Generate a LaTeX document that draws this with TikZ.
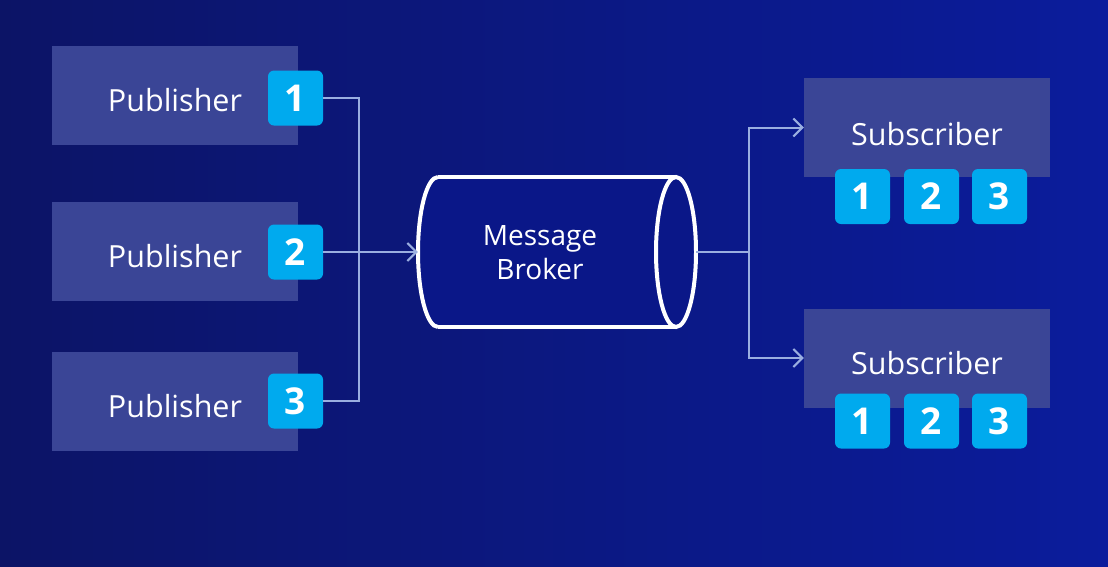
\documentclass[tikz,border=0pt]{standalone}
\usepackage{fontspec}
\setmainfont{Open Sans}
\usetikzlibrary{arrows.meta}
\definecolor{bgL}{HTML}{0C1466}
\definecolor{bgR}{HTML}{0B1C9C}
\definecolor{boxfill}{HTML}{3A4596}
\definecolor{badge}{HTML}{00AAEE}
\definecolor{conn}{HTML}{9AAEE0}
\definecolor{brokerfill}{HTML}{0A1788}
\tikzset{
  pubbox/.style={fill=boxfill, minimum width=246pt, minimum height=99pt, inner sep=0pt},
  boxtext/.style={text=white, inner sep=0pt, font=\fontsize{30.5}{34}\selectfont},
  badgebox/.style={fill=badge, rounded corners=6pt, minimum width=55pt, minimum height=55pt, inner sep=0pt, text=white, font=\fontsize{37}{40}\selectfont\bfseries},
  connline/.style={draw=conn, line width=2pt},
  arr/.style={-{Straight Barb[length=9pt,width=18pt,line width=2pt]}},
  cylline/.style={draw=white, line width=4pt},
}
\begin{document}
\begin{tikzpicture}[x=1pt,y=-1pt]
\shade[left color=bgL, right color=bgR] (0,0) rectangle (1108,566);
\useasboundingbox (0,0) rectangle (1108,566);
% publishers
\node[pubbox] (p1) at (175,95.5) {};
\node[pubbox] (p2) at (175,251.5) {};
\node[pubbox] (p3) at (175,401.5) {};
\node[boxtext] (p1t) at (175,100) {Publisher};
\node[boxtext] (p2t) at (175,256) {Publisher};
\node[boxtext] (p3t) at (175,406) {Publisher};
\node[badgebox] (b1) at (295.5,98) {1};
\node[badgebox] (b2) at (295.5,252) {2};
\node[badgebox] (b3) at (295.5,401) {3};
% broker
\node[minimum width=278pt, minimum height=151pt, inner sep=0pt] (broker) at (557,252) {};
\fill[brokerfill] (438,177) -- (676,177) arc[start angle=270, end angle=450, x radius=20, y radius=75]
  -- (438,327) arc[start angle=90, end angle=270, x radius=20, y radius=75] -- cycle;
\draw[cylline] (438,177) -- (676,177) (438,327) -- (676,327);
\draw[cylline] (438,177) arc[start angle=270, end angle=90, x radius=20, y radius=75];
\draw[cylline] (676,252) ellipse[x radius=20, y radius=75];
\node[text=white, align=center, font=\fontsize{28}{34}\selectfont] (brokert) at (540,253) {Message\\Broker};
% subscribers
\node[pubbox] (s1) at (927,127.5) {};
\node[pubbox] (s2) at (927,358) {};
\node[boxtext] (s1t) at (927,134) {Subscriber};
\node[boxtext] (s2t) at (927,363) {Subscriber};
\node[badgebox] (s1a) at (862.5,196.5) {1};
\node[badgebox] (s1b) at (931.5,196.5) {2};
\node[badgebox] (s1c) at (999.5,196.5) {3};
\node[badgebox] (s2a) at (862.5,421) {1};
\node[badgebox] (s2b) at (931.5,421) {2};
\node[badgebox] (s2c) at (999.5,421) {3};
% connectors
\coordinate (j) at (359,252);
\coordinate (k) at (749,252);
\draw[connline] (b1.east) -| (j);
\draw[connline] (b3.east) -| (j);
\draw[connline, arr] (b2.east) -- (broker.west);
\draw[connline] (broker.east) -- (k);
\draw[connline, arr] (k) |- (s1.west);
\draw[connline, arr] (k) |- (s2.west);
\end{tikzpicture}
\end{document}
